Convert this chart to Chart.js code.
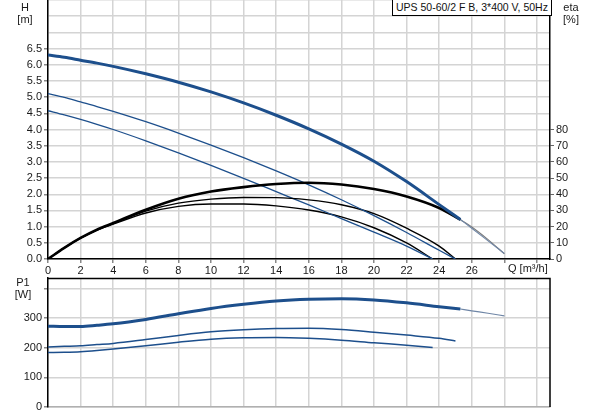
<!DOCTYPE html>
<html>
<head>
<meta charset="utf-8">
<script src="https://cdn.jsdelivr.net/npm/chart.js@4.4.0/dist/chart.umd.min.js"></script>
<style>
body { margin: 0; background: #fff; font-family: "Liberation Sans", Arial, sans-serif; }
#wrap { position: relative; width: 593px; height: 415px; overflow: hidden; }
canvas { position: absolute; left: 0; }
#top { top: 0; }
#bottom { top: 276px; }
.lbl { position: absolute; font-size: 11px; line-height: 12px; color: #1a1a1a; text-align: center; white-space: nowrap; }
#title { position: absolute; left: 392px; top: -1px; width: 155px; height: 15px; border: 1px solid #000;
         background: #fff; font-size: 10.5px; line-height: 15px; padding-left: 3px; color: #111; white-space: nowrap; }
</style>
</head>
<body>
<div id="wrap">
  <canvas id="top" width="593" height="276"></canvas>
  <canvas id="bottom" width="593" height="139"></canvas>
  <div class="lbl" style="left:10px;top:1px;width:30px">H<br>[m]</div>
  <div class="lbl" style="left:556px;top:1px;width:30px">eta<br>[%]</div>
  <div class="lbl" style="left:8px;top:276px;width:30px">P1<br>[W]</div>
  <div class="lbl" style="left:508px;top:262px">Q [m³/h]</div>
  <div id="title">UPS 50-60/2 F B, 3*400 V, 50Hz</div>
</div>
<script>
// Q [m3/h] and curve values
const qMax = [0, 1, 2, 3, 4, 6, 8, 10, 12, 14, 16, 18, 20, 22, 24, 25.3];
const hMax = [6.30, 6.23, 6.14, 6.05, 5.95, 5.72, 5.46, 5.16, 4.82, 4.44, 4.02, 3.55, 3.02, 2.39, 1.68, 1.22];
const etaMax = [0, 6.9, 13.0, 18.1, 22.2, 30.4, 37.2, 41.7, 44.4, 46.3, 47.1, 46.0, 43.2, 38.6, 31.5, 24.3];
const p1Max = [273, 272, 272, 276, 281, 296, 315, 333, 347, 358, 364, 366, 362, 352, 339, 331];

// thin tail of the max speed curves
const qMaxEnd = [25.3, 26, 27, 28];
const hMaxEnd = [1.22, 0.95, 0.56, 0.17];
const etaMaxEnd = [24.3, 19.8, 12.0, 3.2];
const p1MaxEnd = [331, 325, 317, 308];

const qMid = [0, 1, 2, 3, 4, 6, 8, 10, 12, 14, 16, 18, 20, 22, 24, 25];
const hMid = [5.11, 4.99, 4.85, 4.71, 4.56, 4.24, 3.89, 3.52, 3.13, 2.72, 2.29, 1.83, 1.34, 0.82, 0.27, 0];
const etaMid = [0, 6.9, 13.0, 18.0, 22.0, 29.6, 34.5, 37.0, 38.0, 37.9, 36.5, 33.5, 28.0, 19.0, 8.0, 0];
const p1Mid = [203, 205, 207, 211, 215, 228, 242, 254, 261, 265, 266, 262, 253, 243, 232, 223];

const qMin = [0, 1, 2, 3, 4, 6, 8, 10, 12, 14, 16, 18, 20, 22, 23.6];
const hMin = [4.58, 4.45, 4.31, 4.16, 4.00, 3.65, 3.28, 2.89, 2.49, 2.08, 1.67, 1.25, 0.83, 0.40, 0];
const etaMin = [0, 6.9, 12.9, 17.8, 21.5, 28.4, 32.5, 34.0, 34.0, 32.8, 30.3, 26.0, 19.3, 9.9, 0];
const p1Min = [184, 185, 187, 191, 196, 207, 219, 229, 234, 235, 232, 226, 217, 209, 201];

const qTicks = [0, 2, 4, 6, 8, 10, 12, 14, 16, 18, 20, 22, 24, 26, 28, 30];
const hTicks = [0, 0.5, 1, 1.5, 2, 2.5, 3, 3.5, 4, 4.5, 5, 5.5, 6, 6.5, 7, 7.5, 8];
const etaTicks = [0, 10, 20, 30, 40, 50, 60, 70, 80];
const p1Ticks = [0, 100, 200, 300, 400];

const BLUE = '#1d4f8c';
const GRID = '#d4d4d4';

Chart.defaults.font.family = '"Liberation Sans", Arial, sans-serif';
Chart.defaults.font.size = 11;
Chart.defaults.color = '#1a1a1a';

function pts(xs, ys) {
    return xs.map((x, i) => ({ x: x, y: ys[i] }));
}

function curve(xs, ys, axis, color, width) {
    return {
        data: pts(xs, ys),
        yAxisID: axis,
        borderColor: color,
        borderWidth: width,
        pointRadius: 0,
        fill: false,
        cubicInterpolationMode: 'monotone'
    };
}

function setTicks(list) {
    return (scale) => { scale.ticks = list.map(v => ({ value: v })); };
}

const frame = {
    id: 'frame',
    afterDraw(chart, args, opts) {
        if (!opts.top) return;
        const a = chart.chartArea;
        const c = chart.ctx;
        c.save();
        c.strokeStyle = '#000';
        c.lineWidth = 1.5;
        c.beginPath();
        c.moveTo(a.left, a.top + 0.5);
        c.lineTo(a.right, a.top + 0.5);
        c.lineTo(a.right, a.bottom);
        c.stroke();
        c.restore();
    }
};

const xCommon = {
    type: 'linear',
    min: 0,
    max: 30.8,
    afterBuildTicks: setTicks(qTicks),
    grid: { color: GRID, lineWidth: 1.5, tickLength: 4, tickColor: '#888' }
};

new Chart(document.getElementById('top'), {
    type: 'line',
    data: {
        datasets: [
            curve(qMax, hMax, 'yH', BLUE, 3),
            curve(qMax, etaMax, 'yEta', '#000', 2.6),
            curve(qMaxEnd, hMaxEnd, 'yH', '#6f86a6', 1.1),
            curve(qMaxEnd, etaMaxEnd, 'yEta', '#7a7a7a', 1.1),
            curve(qMid, hMid, 'yH', BLUE, 1.3),
            curve(qMid, etaMid, 'yEta', '#000', 1.4),
            curve(qMin, hMin, 'yH', BLUE, 1.3),
            curve(qMin, etaMin, 'yEta', '#000', 1.4)
        ]
    },
    plugins: [frame],
    options: {
        responsive: false,
        animation: false,
        layout: { padding: 0 },
        plugins: { legend: { display: false }, tooltip: { enabled: false }, frame: { top: false } },
        scales: {
            x: Object.assign({}, xCommon, {
                position: 'bottom',
                border: { color: '#000', width: 1.5 },
                ticks: {
                    padding: 1,
                    maxRotation: 0,
                    autoSkip: false,
                    callback: (v) => v <= 26 ? String(v) : ''
                },
                afterFit: (s) => { s.height = 17; s.paddingLeft = 0; s.paddingRight = 0; }
            }),
            yH: {
                type: 'linear',
                position: 'left',
                min: 0,
                max: 8,
                afterBuildTicks: setTicks(hTicks),
                border: { color: '#000', width: 1.5 },
                grid: {
                    color: GRID,
                    lineWidth: 1.5,
                    tickLength: 4,
                    tickColor: (ctx) => ctx.tick && ctx.tick.value <= 6.5 ? '#888' : 'rgba(0,0,0,0)'
                },
                ticks: {
                    padding: 2,
                    autoSkip: false,
                    callback: (v) => v <= 6.5 ? v.toFixed(1) : ''
                },
                afterFit: (s) => { s.width = 48; s.paddingTop = 0; s.paddingBottom = 0; }
            },
            yEta: {
                type: 'linear',
                position: 'right',
                min: 0,
                max: 160,
                afterBuildTicks: setTicks(etaTicks),
                border: { color: '#000', width: 1.5 },
                grid: { drawOnChartArea: false, tickLength: 4, tickColor: '#666' },
                ticks: { padding: 2, autoSkip: false },
                afterFit: (s) => { s.width = 43; s.paddingTop = 0; s.paddingBottom = 0; }
            }
        }
    }
});

new Chart(document.getElementById('bottom'), {
    type: 'line',
    data: {
        datasets: [
            curve(qMax, p1Max, 'yP', BLUE, 3),
            curve(qMaxEnd, p1MaxEnd, 'yP', '#6f86a6', 1.1),
            curve(qMid, p1Mid, 'yP', BLUE, 1.5),
            curve(qMin, p1Min, 'yP', BLUE, 1.5)
        ]
    },
    plugins: [frame],
    options: {
        responsive: false,
        animation: false,
        layout: { padding: { top: 2, right: 43, left: 0, bottom: 0 } },
        plugins: { legend: { display: false }, tooltip: { enabled: false }, frame: { top: true } },
        scales: {
            x: Object.assign({}, xCommon, {
                position: 'bottom',
                border: { color: '#b0b0b0', width: 1.5 },
                grid: { color: GRID, lineWidth: 1.5, drawTicks: false },
                ticks: { display: false },
                afterFit: (s) => { s.height = 8; s.paddingLeft = 0; s.paddingRight = 0; }
            }),
            yP: {
                type: 'linear',
                position: 'left',
                min: 0,
                max: 436,
                afterBuildTicks: setTicks(p1Ticks),
                border: { color: '#000', width: 1.5 },
                grid: { color: GRID, lineWidth: 1.5, tickLength: 4, tickColor: '#888' },
                ticks: {
                    padding: 2,
                    autoSkip: false,
                    callback: (v) => v < 400 ? String(v) : ''
                },
                afterFit: (s) => { s.width = 48; s.paddingTop = 0; s.paddingBottom = 0; }
            }
        }
    }
});
</script>
</body>
</html>
